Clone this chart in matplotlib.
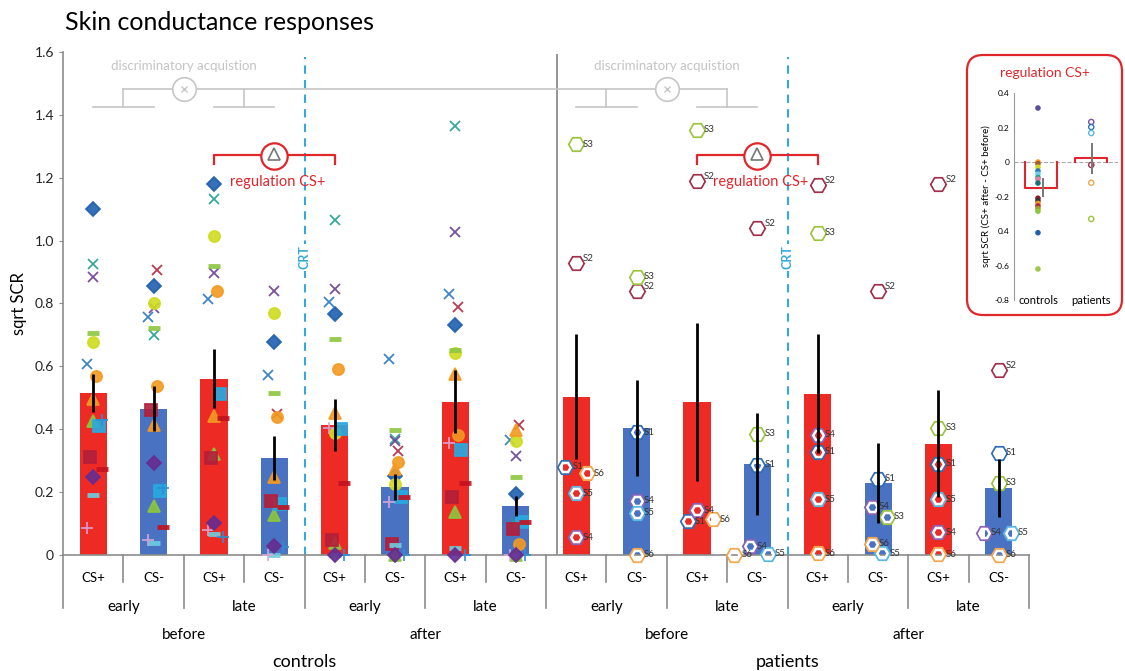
import numpy as np
import matplotlib.pyplot as plt
from matplotlib.patches import FancyBboxPatch
from matplotlib.transforms import IdentityTransform, blended_transform_factory

plt.rcParams['font.family'] = ['Lato', 'DejaVu Sans']

# ---- data ----
conditions = ["CS+", "CS-"] * 8
phases = ["early", "late"] * 4
sessions = ["before", "after", "before", "after"]
groups = ["controls", "patients"]

bar_means = [0.516, 0.465, 0.561, 0.309, 0.414, 0.217, 0.487, 0.156,
             0.504, 0.404, 0.487, 0.290, 0.513, 0.229, 0.354, 0.213]
bar_sem = [0.060, 0.072, 0.095, 0.070, 0.083, 0.041, 0.100, 0.032,
           0.200, 0.153, 0.251, 0.162, 0.190, 0.126, 0.171, 0.091]

nan = np.nan
# control subjects, one value per control bar (8 bars)
ctrl_blue_diamond = [1.099, 0.855, 1.180, 0.676, 0.768, 0.252, 0.730, 0.193]
ctrl_teal_x = [0.926, 0.700, 1.133, nan, 1.065, 0.368, 1.366, 0.099]
ctrl_purple_x = [0.884, 0.786, 0.897, 0.841, 0.846, 0.361, 1.028, 0.316]
ctrl_blue_x = [0.607, 0.757, 0.814, 0.573, 0.804, 0.623, 0.831, 0.366]
ctrl_red_x = [nan, 0.908, nan, 0.448, nan, 0.332, 0.788, 0.414]
ctrl_yellow_circle = [0.678, 0.800, 1.016, 0.770, 0.387, 0.225, 0.642, 0.364]
ctrl_orange_circle = [0.570, 0.538, 0.839, 0.440, 0.592, 0.295, 0.382, 0.034]
ctrl_orange_triangle = [0.497, 0.412, 0.443, 0.249, 0.451, 0.274, 0.576, 0.398]
ctrl_green_triangle = [0.427, 0.156, 0.322, 0.127, 0.037, 0.0, 0.137, 0.0]
ctrl_lightblue_square = [0.409, 0.202, 0.512, 0.161, 0.401, 0.184, 0.334, 0.106]
ctrl_darkred_square = [0.312, 0.460, 0.308, 0.173, 0.048, 0.034, 0.186, 0.082]
ctrl_green_dash = [0.706, 0.722, 0.920, 0.515, 0.687, 0.398, 0.651, 0.249]
ctrl_cyan_dash = [0.191, 0.037, 0.067, 0.0, 0.0, 0.032, 0.023, 0.0]
ctrl_red_dash = [0.274, 0.090, 0.437, 0.153, 0.228, 0.186, 0.230, 0.106]
ctrl_pink_plus = [0.085, 0.048, 0.080, 0.0, 0.403, 0.168, 0.356, 0.0]
ctrl_blue_plus = [0.430, 0.212, 0.056, 0.025, 0.0, 0.0, 0.0, 0.0]
ctrl_purple_diamond = [0.249, 0.292, 0.101, 0.029, 0.0, 0.0, 0.0, 0.0]

# patients S1..S6, one value per patient bar (8 bars)
patient_names = ["S1", "S2", "S3", "S4", "S5", "S6"]
pat_s1 = [0.280, 0.390, 0.108, 0.287, 0.328, 0.242, 0.290, 0.325]
pat_s2 = [0.930, 0.840, 1.190, 1.040, 1.178, 0.840, 1.180, 0.589]
pat_s3 = [1.306, 0.885, 1.353, 0.385, 1.025, 0.121, 0.405, 0.229]
pat_s4 = [0.057, 0.172, 0.143, 0.027, 0.382, 0.153, 0.073, 0.070]
pat_s5 = [0.197, 0.134, nan, 0.004, 0.178, 0.006, 0.178, 0.070]
pat_s6 = [0.260, 0.0, 0.114, 0.0, 0.006, 0.035, 0.003, 0.0]

# inset: CS+ after minus CS+ before
inset_ctrl = [0.313, 0.0, -0.01, -0.03, -0.052, -0.07, -0.09, -0.10,
              -0.122, -0.21, -0.225, -0.24, -0.255, -0.27, -0.285, -0.41, -0.62]
inset_pat = [0.232, 0.203, 0.168, -0.017, -0.12, -0.33]
inset_means = [-0.15, 0.023]
inset_sem = [0.055, 0.09]

# ---- styles ----
RED = '#ee2a24'
BLUE = '#4a72c2'
GRAY = '#8c8c8c'
LIGHT = '#c6c6c6'
CYAN = '#35a8dc'
FRAME_RED = '#e0262b'

# marker, color, size, x jitter
ctrl_styles = [
    (ctrl_blue_diamond, 'D', '#1f5fae', 7, 0.0),
    (ctrl_teal_x, 'x', '#23a08f', 7, 0.0),
    (ctrl_purple_x, 'x', '#6c3f93', 7, 0.0),
    (ctrl_blue_x, 'x', '#2c78c0', 7, -0.1),
    (ctrl_red_x, 'x', '#b2253f', 7, 0.05),
    (ctrl_yellow_circle, 'o', '#cfdc1f', 8, 0.0),
    (ctrl_orange_circle, 'o', '#f39a21', 8, 0.05),
    (ctrl_orange_triangle, '^', '#f39a21', 8, 0.0),
    (ctrl_green_triangle, '^', '#8cc63e', 8, 0.0),
    (ctrl_lightblue_square, 's', '#27aae1', 8, 0.1),
    (ctrl_darkred_square, 's', '#b31f3a', 8, -0.05),
    (ctrl_green_dash, '_', '#8dc63f', 9, 0.0),
    (ctrl_cyan_dash, '_', '#6dcfe0', 9, 0.0),
    (ctrl_red_dash, '_', '#c1121f', 9, 0.15),
    (ctrl_pink_plus, '+', '#d9a6d9', 8, -0.1),
    (ctrl_blue_plus, '+', '#2b8fd6', 8, 0.15),
    (ctrl_purple_diamond, 'D', '#652d90', 7, 0.0),
]

pat_values = [pat_s1, pat_s2, pat_s3, pat_s4, pat_s5, pat_s6]
pat_colors = ['#2f6db5', '#a3304a', '#9bc53d', '#8a63b8', '#59b7e3', '#f4a64a']
pat_jitter = [
    [-0.18, 0, -0.15, 0, 0, 0, 0, 0],
    [0, 0, 0, 0, 0, 0, 0, 0],
    [0, 0, 0, 0, 0, 0.15, 0, 0],
    [0, 0, 0, -0.12, 0, -0.1, 0, -0.25],
    [0, 0, 0, 0.18, 0, 0.07, 0, 0.2],
    [0.18, 0, 0.26, -0.38, 0, -0.1, 0, 0],
]

inset_ctrl_colors = ['#5b4ea0', '#f39a21', '#a05a2c', '#cfdc1f', '#2c78c0', '#6dcfe0',
                     '#23a08f', '#e67fa0', '#1d6f7a', '#8b1a2b', '#333333', '#f39a21',
                     '#b2253f', '#a0a020', '#8cc63e', '#1f5fae', '#9cc94a']
inset_pat_colors = ['#7a4fa8', '#2e75b6', '#59b7e3', '#a3304a', '#f4a64a', '#9bc53d']

# ---- main axes ----
fig = plt.figure(figsize=(11.25, 6.71), dpi=100)
ax = fig.add_axes([0.056, 0.1729, 0.8587, 0.7496])

x = np.arange(16)
bar_colors = [RED if c == "CS+" else BLUE for c in conditions]
ax.bar(x, bar_means, width=0.45, color=bar_colors, zorder=1)

cx = np.arange(8)
for vals, mk, col, ms, off in ctrl_styles:
    mew = 3.5 if mk == '_' else 1.3
    ax.plot(cx + off, vals, linestyle='none', marker=mk, ms=ms, color=col,
            mew=mew, alpha=0.9, zorder=3, clip_on=False)

px = np.arange(8, 16)
for name, vals, col, jit in zip(patient_names, pat_values, pat_colors, pat_jitter):
    xs = px + np.array(jit)
    ax.plot(xs, vals, linestyle='none', marker='H', ms=11, mfc='none',
            mec=col, mew=1.4, zorder=3, clip_on=False)
    ax.plot(xs, vals, linestyle='none', marker='H', ms=7.5, mfc='none',
            mec='white', mew=1.8, zorder=3, clip_on=False)
    for xi, v in zip(xs, vals):
        if np.isnan(v):
            continue
        # S2 labels sit a little high, like a superscript
        dy = 3 if name == "S2" else 0
        ax.annotate(name, (xi, v), xytext=(5, dy), textcoords='offset points',
                    va='center', ha='left', fontsize=7, color='#333333', zorder=6)

ax.errorbar(x, bar_means, yerr=bar_sem, fmt='none', ecolor='black',
            elinewidth=2, capsize=0, zorder=4)

ax.set_xlim(-0.5, 15.5)
ax.set_ylim(0, 1.6)
ax.set_yticks(np.arange(0, 1.61, 0.2))
ax.set_yticklabels(['0'] + [f'{v:.1f}' for v in np.arange(0.2, 1.61, 0.2)])
ax.set_xticks([])
for side in ('top', 'right'):
    ax.spines[side].set_visible(False)
for side in ('left', 'bottom'):
    ax.spines[side].set_color(GRAY)
    ax.spines[side].set_linewidth(1.2)
ax.tick_params(axis='y', direction='out', length=3, color=GRAY, labelsize=10,
               labelcolor='#222222')
ax.set_ylabel('sqrt SCR', fontsize=12)
ax.yaxis.set_label_coords(-0.037, 0.5)

# category axis below the bars
trans = blended_transform_factory(ax.transData, ax.transAxes)
for k in range(17):
    depth = -0.054 if k % 2 else -0.105
    ax.plot([k - 0.5, k - 0.5], [0, depth], transform=trans, clip_on=False,
            color=GRAY, lw=1.2)
for i, c in enumerate(conditions):
    ax.text(i, -0.046, c, transform=trans, ha='center', va='center', fontsize=9.5)
for j, p in enumerate(phases):
    ax.text(2 * j + 0.5, -0.103, p, transform=trans, ha='center', va='center', fontsize=11)
for k, s in enumerate(sessions):
    ax.text(4 * k + 1.5, -0.16, s, transform=trans, ha='center', va='center', fontsize=11)
for g, name in enumerate(groups):
    ax.text(8 * g + 3.5, -0.213, name, transform=trans, ha='center', va='center', fontsize=13)

# controls / patients divider and CRT markers
ax.plot([7.68, 7.68], [0, 1.59], color=GRAY, lw=1.3, zorder=2)
for xc in (3.5, 11.5):
    ax.plot([xc, xc], [0, 1.585], color=CYAN, lw=1.5, ls=(0, (4, 3)), zorder=2)
    ax.text(xc, 0.946, 'CRT', rotation=90, ha='center', va='center', color=CYAN,
            fontsize=9, fontweight='bold', zorder=5,
            bbox=dict(facecolor='white', edgecolor='none', pad=1))

# discriminatory acquisition contrasts
ax.plot([0.5, 10.5], [1.481, 1.481], color=LIGHT, lw=1.2, zorder=2)
for base in (0, 8):
    for d in (0.5, 2.5):
        ax.plot([base + d, base + d], [1.424, 1.481], color=LIGHT, lw=1.2)
    for a in (0, 2):
        ax.plot([base + a, base + a + 1], [1.424, 1.424], color=LIGHT, lw=1.2)
    ax.plot(base + 1.5, 1.481, marker='o', ms=17, mfc='white', mec=LIGHT, mew=1.2, zorder=3)
    ax.plot(base + 1.5, 1.481, marker='x', ms=5, color=LIGHT, mew=1, zorder=4)
    ax.text(base + 1.5, 1.554, 'discriminatory acquistion', color='#c4c4c4',
            fontsize=9.5, ha='center', va='center')

# regulation CS+ contrasts
for start, mid, end in ((2, 3, 4), (10, 11, 12)):
    ax.plot([start, start, end, end], [1.245, 1.272, 1.272, 1.245], color=FRAME_RED, lw=1.6)
    ax.plot(mid, 1.27, marker='o', ms=19, mfc='white', mec=FRAME_RED, mew=1.6, zorder=4)
    ax.plot(mid, 1.275, marker='^', ms=9, mfc='none', mec='#777777', mew=1.2, zorder=5)
    ax.text(mid + 0.05, 1.188, 'regulation CS+', color=FRAME_RED, fontsize=10.5,
            ha='center', va='center')

fig.text(65 / 1125, 1 - 22 / 671, 'Skin conductance responses', fontsize=18,
         ha='left', va='center')

# ---- inset ----
frame = FancyBboxPatch((967, 671 - 315), 155, 260, boxstyle='round,pad=0,rounding_size=16',
                       transform=IdentityTransform(), facecolor='white',
                       edgecolor=FRAME_RED, lw=1.6, zorder=1)
fig.add_artist(frame)
fig.text(1045 / 1125, 1 - 73 / 671, 'regulation CS+', color=FRAME_RED, fontsize=10,
         ha='center', va='center', zorder=3)

ins = fig.add_axes([0.9013, 0.5529, 0.0924, 0.3085], zorder=2)
ins.patch.set_alpha(0)
ins.set_xlim(-0.45, 1.5)
ins.set_ylim(-0.8, 0.4)
for side in ('top', 'right', 'bottom'):
    ins.spines[side].set_visible(False)
ins.spines['left'].set_color('#999999')
ins.set_yticks([0.4, 0.2, 0, -0.2, -0.4, -0.6, -0.8])
ins.set_yticklabels(['0.4', '0.2', '0', '-0.2', '0.4', '-0.6', '-0.8'])
ins.tick_params(axis='y', length=0, labelsize=6, pad=3)
ins.set_xticks([])
ins.text(0.0, -0.8, 'controls', ha='center', va='center', fontsize=8)
ins.text(1.0, -0.8, 'patients', ha='center', va='center', fontsize=8)
ins.set_ylabel('sqrt SCR (CS+ after - CS+ before)', fontsize=7, labelpad=3)
ins.axhline(0, color='#aaaaaa', ls='--', lw=0.8, zorder=1)

w = 0.3
for c, m in zip((0.05, 1.0), inset_means):
    ins.plot([c - w, c - w, c + w, c + w], [0, m, m, 0], color=FRAME_RED, lw=1.5, zorder=2)
ins.errorbar([0.1, 1.02], inset_means, yerr=inset_sem, fmt='none', ecolor='#777777',
             elinewidth=1.4, capsize=0, zorder=4)
ins.scatter(np.zeros(len(inset_ctrl)), inset_ctrl, c=inset_ctrl_colors, s=9, zorder=3)
ins.scatter(np.ones(len(inset_pat)), inset_pat, facecolors='none',
            edgecolors=inset_pat_colors, s=14, lw=1, zorder=3)

fig.savefig('out.png', dpi=100)
